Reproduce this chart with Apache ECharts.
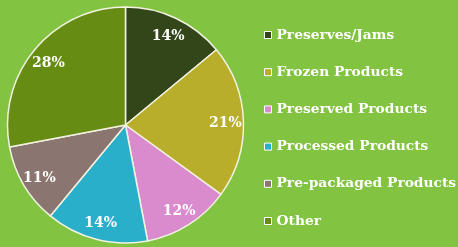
<!DOCTYPE html>
<html><head><meta charset="utf-8">
<script src="https://cdn.jsdelivr.net/npm/echarts@6/dist/echarts.min.js"></script>
<style>html,body{margin:0;padding:0;background:#82c341;}#c{width:458px;height:247px;}</style>
</head><body><div id="c"></div>
<script>
const categories = ["Preserves/Jams","Frozen Products","Preserved Products","Processed Products","Pre-packaged Products","Other"];
const values = [14,21,12,14,11,28];
const colors = ["#33461a","#b8ae2c","#d98bcd","#2aafcb","#8a7570","#678c13"];
const font = "'DejaVu Serif', serif";
const chart = echarts.init(document.getElementById('c'));
chart.setOption({
  backgroundColor: '#82c341',
  animation: false,
  legend: {
    orient: 'vertical', left: 259, top: 23,
    icon: 'rect', itemWidth: 7, itemHeight: 7, itemGap: 23.2,
    data: categories.map((n,i)=>({name:n, itemStyle:{color:colors[i], borderColor:'#ffffff', borderWidth:1}})),
    textStyle: { color: '#ffffff', fontFamily: font, fontWeight: 'bold', fontSize: 13.8, lineHeight: 14 }
  },
  series: [{
    type: 'pie', center: [125.5, 125], radius: [0, 118],
    startAngle: 90, clockwise: true,
    label: { show: false },
    labelLine: { show: false },
    itemStyle: { borderColor: '#f2f2e0', borderWidth: 1.5 },
    data: categories.map((n,i)=>({name:n, value:values[i], itemStyle:{color:colors[i]}}))
  },{
    type: 'pie', center: [125.5, 125], radius: [76, 118],
    startAngle: 90, clockwise: true, silent: true,
    label: { show: true, position: 'inside', formatter: '{d}%', color: '#fff', fontFamily: font, fontWeight: 'bold', fontSize: 14, offset: [0, 2] },
    labelLine: { show: false },
    itemStyle: { color: 'rgba(0,0,0,0)', borderWidth: 0 },
    data: categories.map((n,i)=>({name:n, value:values[i]}))
  }]
});
</script></body></html>
